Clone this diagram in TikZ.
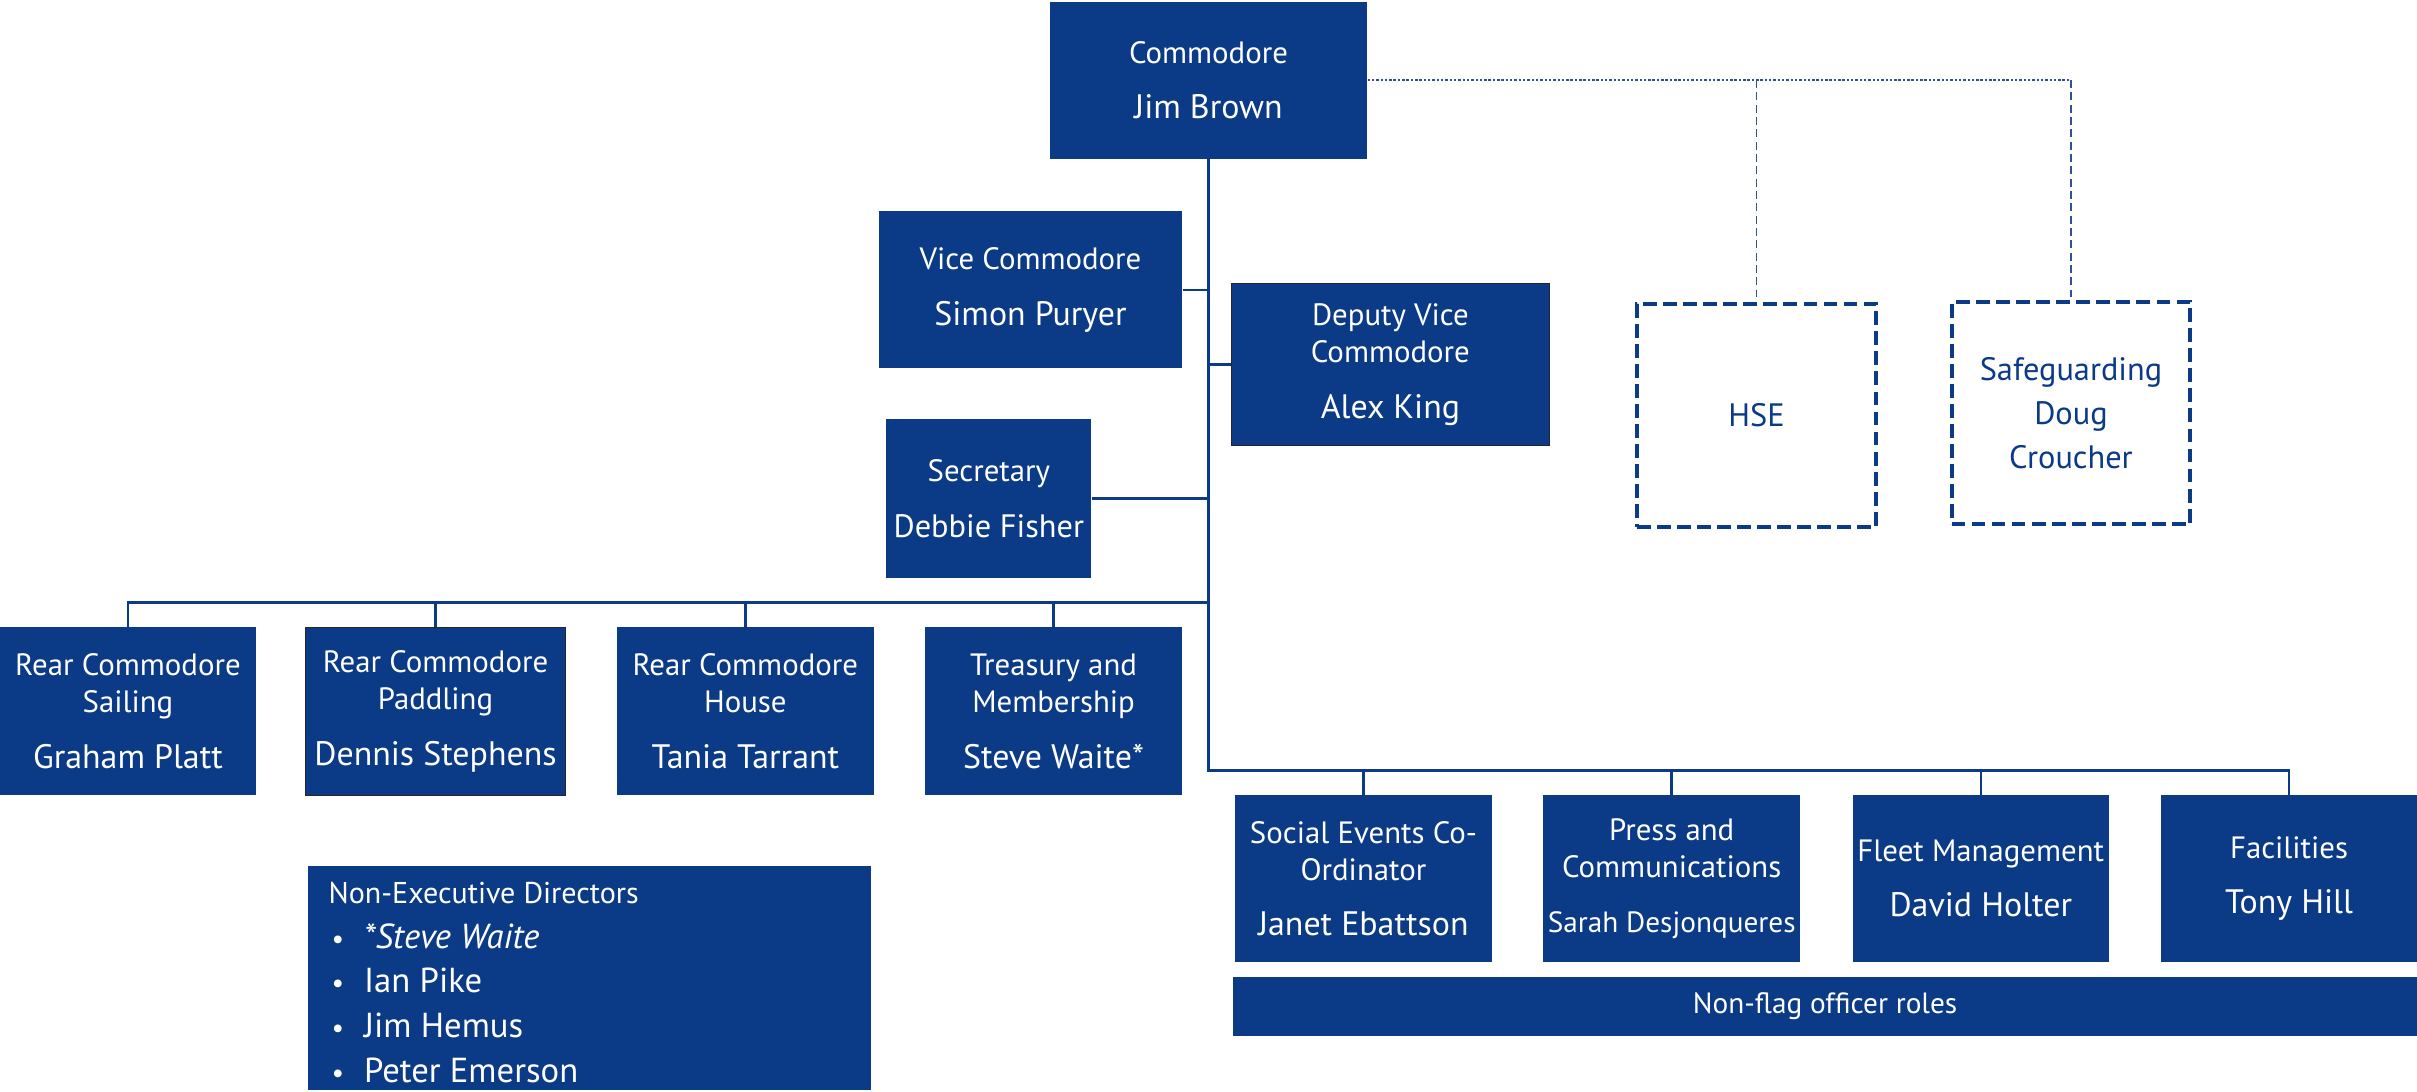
\documentclass[tikz,border=0pt]{standalone}
\usepackage{fontspec}
\setmainfont{PT Sans}
\definecolor{navy}{RGB}{11,58,134}
\definecolor{linkblue}{RGB}{50,80,150}
\newcommand\pname[1]{{\fontsize{22}{24}\selectfont #1}}
\tikzset{
  role/.style={fill=navy, text=white, inner sep=0pt, align=center,
    font=\fontsize{20}{24}\selectfont},
  outlined/.style={role, draw=black!85, line width=0.8pt},
  advisory/.style={draw=navy, fill=white, text=navy, line width=2.6pt,
    dash pattern=on 9pt off 4pt, inner sep=0pt, align=center,
    font=\fontsize{21}{28.5}\selectfont},
  tree/.style={draw=navy, line width=1.6pt},
  dotlink/.style={draw=linkblue, line width=1.2pt, dash pattern=on 1.6pt off 1.2pt},
  dashlink/.style={draw=linkblue, line width=0.7pt, dash pattern=on 5pt off 3pt},
}
\begin{document}
\begin{tikzpicture}[x=1pt,y=-1pt]
\useasboundingbox (0,0) rectangle (1568,708);

% top officers
\node[role, minimum width=206pt, minimum height=102pt] (com) at (784,52)
  {Commodore\\[12pt]\pname{Jim Brown}};
\node[role, minimum width=197pt, minimum height=102pt] (vc) at (668.5,188)
  {Vice Commodore\\[12pt]\pname{Simon Puryer}};
\node[outlined, minimum width=206pt, minimum height=105pt] (dvc) at (902,236.5)
  {Deputy Vice\\Commodore\\[12pt]\pname{Alex King}};
\node[role, minimum width=133pt, minimum height=103pt] (sec) at (641.5,323.5)
  {Secretary\\[12pt]{\fontsize{21}{24}\selectfont Debbie Fisher}};

% advisory roles
\node[advisory, minimum width=155pt, minimum height=145pt] (hse) at (1139.5,269.5) {HSE};
\node[advisory, minimum width=155pt, minimum height=144pt] (sg) at (1343.5,268)
  {Safeguarding\\Doug\\Croucher};

% flag officers
\node[role, minimum width=166pt, minimum height=109pt] (rs) at (83,461.5)
  {Rear Commodore\\Sailing\\[12pt]\pname{Graham Platt}};
\node[outlined, minimum width=169pt, minimum height=109pt] (rp) at (282.5,461.5)
  {Rear Commodore\\Paddling\\[12pt]\pname{Dennis Stephens}};
\node[role, minimum width=167pt, minimum height=109pt] (rh) at (483.5,461.5)
  {Rear Commodore\\House\\[12pt]\pname{Tania Tarrant}};
\node[role, minimum width=167pt, minimum height=109pt] (tr) at (683.5,461.5)
  {Treasury and\\Membership\\[12pt]\pname{Steve Waite*}};

% non-flag officers
\node[role, minimum width=167pt, minimum height=108pt] (soc) at (884.5,570)
  {Social Events Co-\\Ordinator\\[12pt]\pname{Janet Ebattson}};
\node[role, minimum width=167pt, minimum height=108pt] (prs) at (1084.5,570)
  {Press and\\Communications\\[12pt]{\fontsize{19}{24}\selectfont Sarah Desjonqueres}};
\node[role, minimum width=166pt, minimum height=108pt] (flt) at (1285,570)
  {Fleet Management\\[12pt]\pname{David Holter}};
\node[role, minimum width=166pt, minimum height=108pt] (fac) at (1485,570)
  {Facilities\\[12pt]\pname{Tony Hill}};
\node[role, minimum width=768pt, minimum height=38pt, font=\fontsize{19}{20}\selectfont]
  (nf) at (1184,653) {Non-flag officer roles};

% non-executive directors
\node[role, minimum width=365pt, minimum height=145pt] (ned) at (382.5,634.5) {};
\node[anchor=north west, inner sep=0pt, text=white, align=left,
  font=\fontsize{22.5}{29}\selectfont] (nedlist) at (213,572)
  {{\fontsize{19.5}{29}\selectfont Non-Executive Directors}\\
   \makebox[23pt][l]{\hspace{2pt}{\fontsize{18}{20}\selectfont\textbullet}}\textit{*Steve Waite}\\
   \makebox[23pt][l]{\hspace{2pt}{\fontsize{18}{20}\selectfont\textbullet}}Ian Pike\\
   \makebox[23pt][l]{\hspace{2pt}{\fontsize{18}{20}\selectfont\textbullet}}Jim Hemus\\
   \makebox[23pt][l]{\hspace{2pt}{\fontsize{18}{20}\selectfont\textbullet}}Peter Emerson};

% reporting lines
\coordinate (upper) at (com.south |- 0,391);
\coordinate (lower) at (com.south |- 0,500);
\draw[tree] (com.south) -- (lower) -| (fac.north);
\draw[tree] (vc.east) -- (vc.east -| com.south);
\draw[tree] (dvc.west) -- (dvc.west -| com.south);
\draw[tree] (sec.east) -- (sec.east -| com.south);
\draw[tree] (upper) -| (rs.north);
\draw[tree] (rp.north) -- (rp.north |- upper);
\draw[tree] (rh.north) -- (rh.north |- upper);
\draw[tree] (tr.north) -- (tr.north |- upper);
\draw[tree] (soc.north) -- (soc.north |- lower);
\draw[tree] (prs.north) -- (prs.north |- lower);
\draw[tree] (flt.north) -- (flt.north |- lower);

% advisory links
\draw[dotlink] (com.east) -- (com.east -| sg.north);
\draw[dashlink] (com.east -| hse.north) -- (hse.north);
\draw[dashlink] (com.east -| sg.north) -- (sg.north);
\end{tikzpicture}
\end{document}
